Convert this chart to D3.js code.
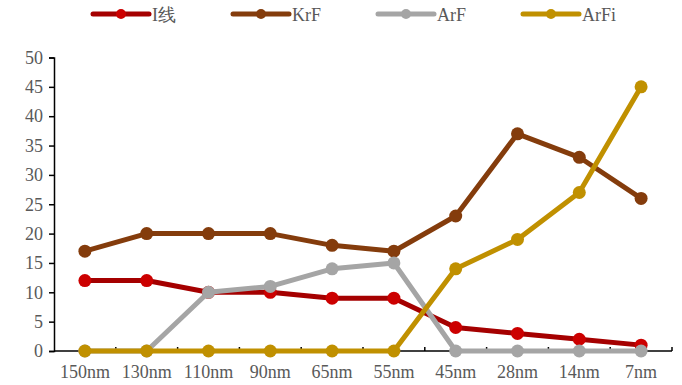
<!DOCTYPE html>
<html>
<head>
<meta charset="utf-8">
<script src="https://cdn.jsdelivr.net/npm/d3@7/dist/d3.min.js"></script>
<style>
  html, body { margin: 0; padding: 0; background: #fff; }
  svg { display: block; }
  text { font-family: "Liberation Serif", "Times New Roman", serif; fill: #595959; }
</style>
</head>
<body>
<svg id="chart" width="682" height="385"></svg>
<script>
// Process nodes along the x axis
const nodes = ["150nm", "130nm", "110nm", "90nm", "65nm", "55nm", "45nm", "28nm", "14nm", "7nm"];

// Values per lithography type
const iLine = [12, 12, 10, 10, 9, 9, 4, 3, 2, 1];
const krf   = [17, 20, 20, 20, 18, 17, 23, 37, 33, 26];
const arf   = [0, 0, 10, 11, 14, 15, 0, 0, 0, 0];
const arfi  = [0, 0, 0, 0, 0, 0, 14, 19, 27, 45];

const seriesNames = ["I线", "KrF", "ArF", "ArFi"];
const yTicks = [0, 5, 10, 15, 20, 25, 30, 35, 40, 45, 50];

const series = [
  { name: seriesNames[0], values: iLine, line: "#A50000", dot: "#CC0000" },
  { name: seriesNames[1], values: krf,   line: "#843C0C", dot: "#843C0C" },
  { name: seriesNames[2], values: arf,   line: "#A5A5A5", dot: "#A5A5A5" },
  { name: seriesNames[3], values: arfi,  line: "#C09000", dot: "#C09000" }
];

const svg = d3.select("#chart");
const plot = { left: 54, right: 672, top: 57.5, bottom: 351 };

const x = d3.scaleBand().domain(nodes).range([plot.left, plot.right]);
const y = d3.scaleLinear().domain([0, 50]).range([plot.bottom, plot.top]);
const cx = (i) => x(nodes[i]) + x.bandwidth() / 2;

// Y axis
const yAxis = svg.append("g")
  .attr("transform", `translate(${plot.left},0)`)
  .call(d3.axisLeft(y).tickValues(yTicks).tickSize(5).tickPadding(6));
yAxis.select(".domain").attr("stroke", "#000").attr("stroke-width", 1.5);
yAxis.selectAll(".tick line").attr("stroke", "#000").attr("stroke-width", 1.5);
yAxis.selectAll("text").style("font-size", "18px").attr("fill", "#595959")
  .style("font-family", "'Liberation Serif', serif");

// X axis with ticks at band boundaries pointing inward
const xAxis = svg.append("g")
  .attr("transform", `translate(0,${plot.bottom})`);
xAxis.append("line")
  .attr("x1", plot.left).attr("x2", plot.right)
  .attr("stroke", "#000").attr("stroke-width", 1.5);
xAxis.selectAll("line.tick")
  .data(nodes)
  .join("line")
  .attr("class", "tick")
  .attr("x1", d => x(d) + x.bandwidth())
  .attr("x2", d => x(d) + x.bandwidth())
  .attr("y1", 0).attr("y2", -4)
  .attr("stroke", "#000").attr("stroke-width", 1.5);
xAxis.selectAll("text.lbl")
  .data(nodes)
  .join("text")
  .attr("class", "lbl")
  .attr("x", d => x(d) + x.bandwidth() / 2)
  .attr("y", 27)
  .attr("text-anchor", "middle")
  .style("font-size", "18px")
  .text(d => d);

// Series lines and markers
const line = d3.line()
  .x((d, i) => cx(i))
  .y(d => y(d));

series.forEach(s => {
  const g = svg.append("g");
  g.append("path")
    .datum(s.values)
    .attr("d", line)
    .attr("fill", "none")
    .attr("stroke", s.line)
    .attr("stroke-width", 5)
    .attr("stroke-linejoin", "round");
  g.selectAll("circle")
    .data(s.values)
    .join("circle")
    .attr("cx", (d, i) => cx(i))
    .attr("cy", d => y(d))
    .attr("r", 6.5)
    .attr("fill", s.dot);
});

// Legend
const legendX = [93, 233, 378, 523];
const legend = svg.append("g");
series.forEach((s, i) => {
  const g = legend.append("g").attr("transform", `translate(${legendX[i]},14)`);
  g.append("line")
    .attr("x1", 0).attr("x2", 56)
    .attr("stroke", s.line).attr("stroke-width", 5)
    .attr("stroke-linecap", "round");
  g.append("circle").attr("cx", 28).attr("r", 5).attr("fill", s.dot);
  g.append("text")
    .attr("x", 59).attr("y", 6.5)
    .style("font-size", "18px")
    .text(s.name);
});
</script>
</body>
</html>
